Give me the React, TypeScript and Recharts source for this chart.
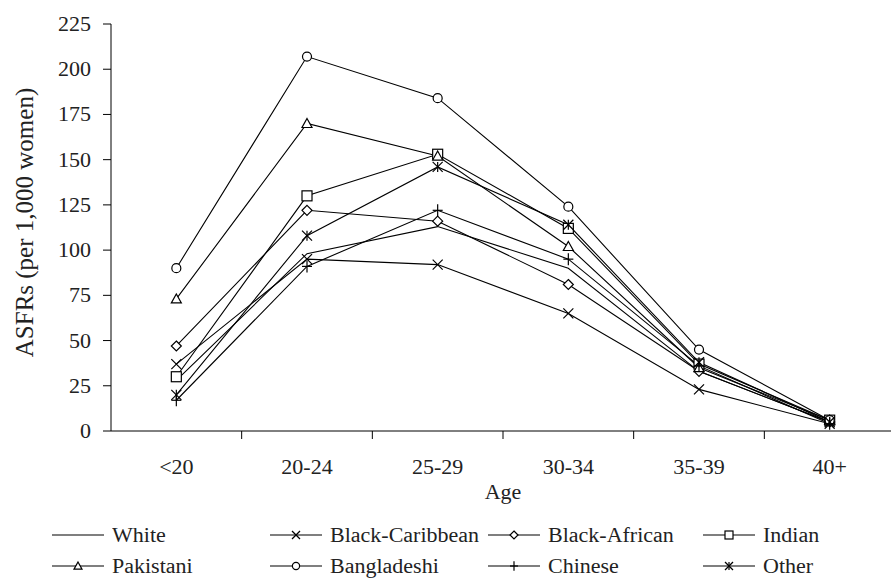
import React from "react";
import { LineChart, Line, XAxis, YAxis, Label } from "recharts";

// age groups on the x axis
const categories = ["<20", "20-24", "25-29", "30-34", "35-39", "40+"];
const yTicks = [0, 25, 50, 75, 100, 125, 150, 175, 200, 225];

// ASFRs per 1,000 women
const white = [28, 98, 113, 90, 33, 5];
const blackCaribbean = [37, 95, 92, 65, 23, 4];
const blackAfrican = [47, 122, 116, 81, 33, 5];
const indian = [30, 130, 153, 112, 37, 6];
const pakistani = [73, 170, 152, 102, 35, 6];
const bangladeshi = [90, 207, 184, 124, 45, 6];
const chinese = [17, 91, 122, 95, 36, 4];
const other = [20, 108, 146, 114, 38, 5];

type Kind = "none" | "x" | "diamond" | "square" | "triangle" | "circle" | "plus" | "star";

const series: { name: string; values: number[]; kind: Kind }[] = [
  { name: "White", values: white, kind: "none" },
  { name: "Black-Caribbean", values: blackCaribbean, kind: "x" },
  { name: "Black-African", values: blackAfrican, kind: "diamond" },
  { name: "Indian", values: indian, kind: "square" },
  { name: "Pakistani", values: pakistani, kind: "triangle" },
  { name: "Bangladeshi", values: bangladeshi, kind: "circle" },
  { name: "Chinese", values: chinese, kind: "plus" },
  { name: "Other", values: other, kind: "star" },
];

const data = categories.map((age, i) => {
  const row: Record<string, string | number> = { age };
  series.forEach((s) => (row[s.name] = s.values[i]));
  return row;
});

const W = 891;
const H = 579;
const margin = { top: 24, right: -4, bottom: 68, left: 0 };
const yAxisWidth = 111;
const band = (W - margin.left - margin.right - yAxisWidth) / categories.length;

const FONT = "'Liberation Serif', 'Times New Roman', serif";
const TEXT = "#222";
const STRETCH = 1.1;

function Marker({ kind, cx, cy, s }: { kind: Kind; cx: number; cy: number; s: number }) {
  const st = { stroke: "#000", strokeWidth: 1.2 };
  switch (kind) {
    case "x":
      return (
        <g {...st}>
          <line x1={cx - s} y1={cy - s} x2={cx + s} y2={cy + s} />
          <line x1={cx - s} y1={cy + s} x2={cx + s} y2={cy - s} />
        </g>
      );
    case "diamond":
      return (
        <polygon
          points={`${cx},${cy - s} ${cx + s},${cy} ${cx},${cy + s} ${cx - s},${cy}`}
          fill="#fff"
          {...st}
        />
      );
    case "square":
      return <rect x={cx - s} y={cy - s} width={2 * s} height={2 * s} fill="#fff" {...st} />;
    case "triangle":
      return (
        <polygon
          points={`${cx},${cy - s} ${cx + s},${cy + s * 0.8} ${cx - s},${cy + s * 0.8}`}
          fill="#fff"
          {...st}
        />
      );
    case "circle":
      return <circle cx={cx} cy={cy} r={s * 0.9} fill="#fff" {...st} />;
    case "plus":
      return (
        <g {...st}>
          <line x1={cx - s} y1={cy} x2={cx + s} y2={cy} />
          <line x1={cx} y1={cy - s * 1.2} x2={cx} y2={cy + s * 1.2} />
        </g>
      );
    case "star":
      return (
        <g {...st}>
          <line x1={cx - s} y1={cy - s} x2={cx + s} y2={cy + s} />
          <line x1={cx - s} y1={cy + s} x2={cx + s} y2={cy - s} />
          <line x1={cx} y1={cy - s} x2={cx} y2={cy + s} />
        </g>
      );
    default:
      return null;
  }
}

function XTick(props: any) {
  const { x, y, payload } = props;
  return (
    <g>
      <line x1={x + band / 2} y1={y} x2={x + band / 2} y2={y + 8} stroke="#000" />
      <g transform={`translate(${x},${y + 43})`}>
        <text transform={`scale(${STRETCH},1)`} textAnchor="middle" fontFamily={FONT} fontSize={20} fill={TEXT}>
          {payload.value}
        </text>
      </g>
    </g>
  );
}

function YTick(props: any) {
  const { x, y, payload } = props;
  return (
    <g transform={`translate(${x},${y})`}>
      <text transform={`scale(${STRETCH},1)`} textAnchor="end" dy="0.35em" fontFamily={FONT} fontSize={20} fill={TEXT}>
        {payload.value}
      </text>
    </g>
  );
}

function LegendIcon({ kind }: { kind: Kind }) {
  return (
    <svg width={52} height={20} style={{ display: "block" }}>
      <line x1={0} y1={10} x2={52} y2={10} stroke="#000" strokeWidth={1.2} />
      <Marker kind={kind} cx={26} cy={10} s={4} />
    </svg>
  );
}

const legendCols = [52, 270, 488, 703];

export default function App() {
  return (
    <div style={{ position: "absolute", left: 0, top: 0, width: W, height: H, background: "#fff" }}>
      <LineChart width={W} height={H} data={data} margin={margin}>
        <XAxis
          dataKey="age"
          height={80}
          padding={{ left: band / 2, right: band / 2 }}
          tickLine={false}
          tickSize={0}
          tickMargin={0}
          axisLine={{ stroke: "#000" }}
          tick={<XTick />}
          interval={0}
        >
          <Label
            content={(p: any) => {
              const vb = p.viewBox;
              return (
                <g transform={`translate(${vb.x + vb.width / 2},${vb.y + 68})`}>
                  <text transform={`scale(${STRETCH},1)`} textAnchor="middle" fontFamily={FONT} fontSize={20} fill={TEXT}>
                    Age
                  </text>
                </g>
              );
            }}
          />
        </XAxis>
        <YAxis
          width={yAxisWidth}
          domain={[0, 225]}
          ticks={yTicks}
          tickSize={8}
          tickMargin={12}
          axisLine={{ stroke: "#000" }}
          tickLine={{ stroke: "#000" }}
          tick={<YTick />}
          interval={0}
        >
          <Label
            content={(p: any) => {
              const vb = p.viewBox;
              const cy = vb.y + vb.height / 2 - 5;
              return (
                <text
                  x={24}
                  y={cy}
                  transform={`rotate(-90, 24, ${cy})`}
                  textAnchor="middle"
                  dy="0.35em"
                  fontFamily={FONT}
                  fontSize={25}
                  fill={TEXT}
                >
                  ASFRs (per 1,000 women)
                </text>
              );
            }}
          />
        </YAxis>
        {series.map((s) => (
          <Line
            key={s.name}
            dataKey={s.name}
            stroke="#000"
            strokeWidth={1.1}
            isAnimationActive={false}
            dot={
              s.kind === "none"
                ? false
                : (p: any) => <Marker key={`${s.name}-${p.index}`} kind={s.kind} cx={p.cx} cy={p.cy} s={5} />
            }
            activeDot={false}
          />
        ))}
      </LineChart>
      <div style={{ position: "absolute", left: 0, top: 523, width: W, fontFamily: FONT, fontSize: 20, color: TEXT }}>
        {[0, 1].map((r) => (
          <div key={r} style={{ position: "relative", height: 31 }}>
            {series.slice(r * 4, r * 4 + 4).map((s, c) => (
              <div
                key={s.name}
                style={{ position: "absolute", left: legendCols[c], top: 0, display: "flex", alignItems: "center", height: 24 }}
              >
                <LegendIcon kind={s.kind} />
                <span
                  style={{
                    marginLeft: 8,
                    display: "inline-block",
                    transform: `scaleX(${STRETCH})`,
                    transformOrigin: "left center",
                    whiteSpace: "nowrap",
                  }}
                >
                  {s.name}
                </span>
              </div>
            ))}
          </div>
        ))}
      </div>
    </div>
  );
}
